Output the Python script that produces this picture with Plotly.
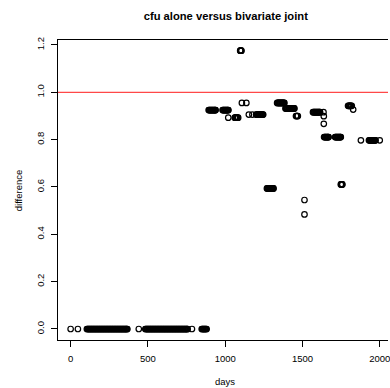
import plotly.graph_objects as go

# ---- data (days, difference) ----
zero_days = [0, 47,
             105, 109, 113, 117, 121, 125, 129, 133, 137, 141, 145, 149, 153, 157, 161, 165,
             169, 173, 177, 181, 185, 189, 193, 197, 201, 205, 209, 213, 217, 221, 225, 229,
             233, 237, 241, 245, 249, 253, 257, 261, 265, 269, 273, 277, 281, 285, 289, 293,
             297, 301, 305, 309, 313, 317, 321, 325, 329, 333, 337, 341, 345, 349, 353, 357,
             361, 364, 367,
             441,
             483, 487, 491, 495, 499, 503, 507, 511, 515, 519, 523, 527, 531, 535, 539, 543,
             547, 551, 555, 559, 563, 567, 571, 575, 579, 583, 587, 591, 595, 599, 603, 607,
             611, 615, 619, 623, 627, 631, 635, 639, 643, 647, 651, 655, 659, 663, 667, 671,
             675, 679, 683, 687, 691, 695, 699, 703, 707, 711, 715, 719, 723, 727, 731, 735,
             739, 743, 747, 751, 754, 757,
             785,
             848, 852, 856, 860, 864, 868, 872, 876, 880]
zero_level = 0.0

g1_days = [893, 897, 901, 905, 909, 913, 917, 921, 925, 929, 933, 936, 938,
           983, 987, 991, 995, 999, 1003, 1007, 1011, 1015, 1018, 1021]
g1_level = 0.925

g2_days = [1020, 1062, 1065, 1068, 1071, 1074, 1077, 1080, 1084]
g2_level = 0.893

g3_days = [1097, 1099, 1101, 1103, 1105]
g3_level = 1.176

g4_days = [1108, 1137]
g4_level = 0.955

g5_days = [1153, 1176, 1200, 1204, 1208, 1212, 1216, 1220, 1224, 1228, 1232, 1236,
           1240, 1243, 1246]
g5_level = 0.906

g6_days = [1270, 1274, 1278, 1282, 1286, 1290, 1294, 1298, 1302, 1306, 1310, 1313]
g6_level = 0.594

g7_days = [1336, 1340, 1344, 1348, 1352, 1356, 1360, 1364, 1368, 1372, 1376, 1380, 1383]
g7_level = 0.955

g8_days = [1390, 1394, 1398, 1402, 1406, 1410, 1414, 1418, 1422, 1426, 1430, 1434,
           1438, 1442, 1445, 1448]
g8_level = 0.932

g9_days = [1458, 1461, 1464, 1467, 1470]
g9_level = 0.900

g10_days = [1513, 1513]
g10_diff = [0.545, 0.484]

g11_days = [1568, 1572, 1576, 1580, 1584, 1588, 1592, 1596, 1600, 1604, 1608, 1611,
            1614, 1636]
g11_level = 0.916

g12_days = [1638, 1638]
g12_diff = [0.899, 0.867]

g13_days = [1640, 1644, 1648, 1652, 1656, 1660, 1664, 1667, 1669,
            1711, 1715, 1719, 1723, 1727, 1731, 1735, 1739, 1743, 1746, 1748]
g13_level = 0.811

g14_days = [1748, 1751, 1754, 1756, 1758]
g14_level = 0.611

g15_days = [1795, 1799, 1803, 1807, 1811, 1815, 1819]
g15_level = 0.943

g16_days = [1828]
g16_level = 0.927

g17_days = [1878, 1930, 1934, 1938, 1942, 1946, 1950, 1954, 1958, 1962, 1966, 1970,
            1973, 2000]
g17_level = 0.797

x_ticks = [0, 500, 1000, 1500, 2000]
y_ticks = [0.0, 0.2, 0.4, 0.6, 0.8, 1.0, 1.2]
ref_level = 1.0

# ---- assemble ----
level_groups = [
    (zero_days, zero_level), (g1_days, g1_level), (g2_days, g2_level),
    (g3_days, g3_level), (g4_days, g4_level), (g5_days, g5_level),
    (g6_days, g6_level), (g7_days, g7_level), (g8_days, g8_level),
    (g9_days, g9_level), (g11_days, g11_level), (g13_days, g13_level),
    (g14_days, g14_level), (g15_days, g15_level), (g16_days, g16_level),
    (g17_days, g17_level),
]
days = []
difference = []
for d_list, lvl in level_groups:
    days += d_list
    difference += [lvl] * len(d_list)
days += g10_days + g12_days
difference += g10_diff + g12_diff

FONT = "Liberation Sans, Arial, Helvetica, sans-serif"

fig = go.Figure()
fig.add_trace(go.Scatter(
    x=days, y=difference, mode="markers",
    marker=dict(symbol="circle-open", size=5.5, color="black",
                line=dict(color="black", width=1.2)),
    showlegend=False, hoverinfo="skip"))

fig.add_shape(type="line", xref="paper", yref="y", x0=0, x1=1,
              y0=ref_level, y1=ref_level, line=dict(color="#ff4848", width=1.3))

fig.update_layout(
    width=390, height=388,
    margin=dict(l=58, r=0, t=40, b=48),
    paper_bgcolor="white", plot_bgcolor="white",
    font=dict(family=FONT, size=9.5, color="black"),
    title=dict(text="<b>cfu alone versus bivariate joint</b>",
               xref="container", yref="container",
               x=225.8 / 390, y=1 - 16.5 / 388,
               xanchor="center", yanchor="middle",
               font=dict(family=FONT, size=11.2, color="black")),
    xaxis=dict(range=[-81.7, 2053.4], tickvals=x_ticks,
               ticktext=[str(v) for v in x_ticks],
               showgrid=False, zeroline=False,
               showline=True, mirror=True, linecolor="black", linewidth=1,
               ticks="outside", ticklen=6, tickcolor="black", tickwidth=1,
               ticklabelstandoff=4, ticklabeloverflow="allow",
               tickfont=dict(family=FONT, size=9.5, color="black")),
    yaxis=dict(range=[-0.0465, 1.221], tickvals=y_ticks,
               ticktext=["%.1f" % v for v in y_ticks],
               showgrid=False, zeroline=False,
               showline=True, mirror=False, linecolor="black", linewidth=1,
               ticks="outside", ticklen=6, tickcolor="black", tickwidth=1,
               tickangle=-90, ticklabelstandoff=3,
               tickfont=dict(family=FONT, size=9.5, color="black")),
    annotations=[
        dict(text="days", xref="paper", yref="paper",
             x=(226 - 58) / 332, y=(340 - 381) / 300,
             xanchor="center", yanchor="middle", showarrow=False,
             font=dict(family=FONT, size=9.5, color="black")),
        dict(text="difference", xref="paper", yref="paper",
             x=(18 - 58) / 332, y=0.5, textangle=-90,
             xanchor="center", yanchor="middle", showarrow=False,
             font=dict(family=FONT, size=9.5, color="black")),
    ],
)

fig.write_html("out.html")
